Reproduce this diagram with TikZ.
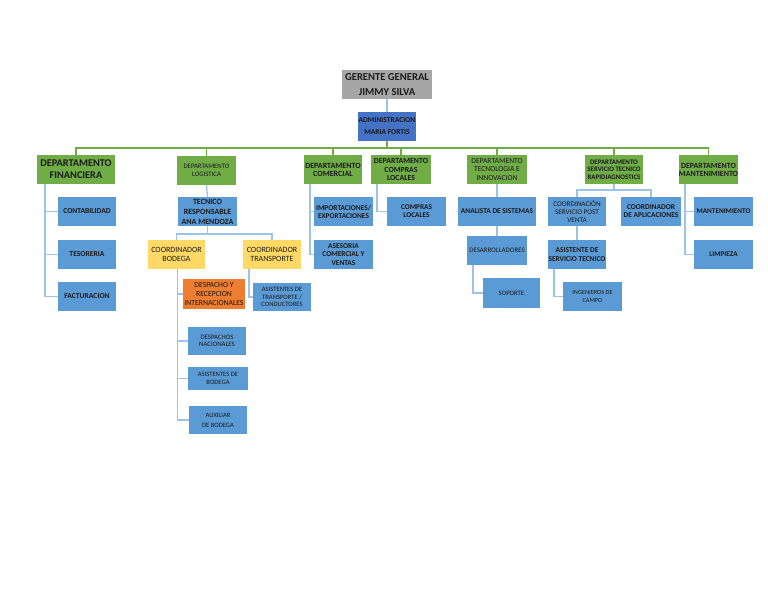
\documentclass[tikz,border=0pt]{standalone}
\usepackage{fontspec}
\setmainfont{Carlito}
\definecolor{cgreen}{HTML}{70AD47}
\definecolor{cblue}{HTML}{5B9BD5}
\definecolor{cadm}{HTML}{4472C4}
\definecolor{cgray}{HTML}{A6A6A6}
\definecolor{cyel}{HTML}{FFD966}
\definecolor{corg}{HTML}{ED7D31}
\definecolor{cline}{HTML}{9DC3E6}
\definecolor{ctext}{HTML}{1A1A1A}
\newcommand{\fz}[2]{\fontsize{#1}{#2}\selectfont}
\newcommand{\bx}[7]{\node[box,#6,minimum width={(#4)-(#2)},minimum height={(#5)-(#3)}] (#1) at ({((#2)+(#4))/2},{((#3)+(#5))/2}) {#7};}
\tikzset{
  box/.style={inner sep=0pt,outer sep=0pt,align=center,text=ctext},
  gbox/.style={box,fill=cgreen},
  bbox/.style={box,fill=cblue},
  ybox/.style={box,fill=cyel},
  conn/.style={draw=cline,line width=1.3pt},
  bus/.style={draw=cgreen,line width=1.3pt}
}
\begin{document}
\begin{tikzpicture}[x=1pt,y=-1pt]
\useasboundingbox[fill=white] (0,0) rectangle (768,594);
% top
\bx{ger}{342}{70}{432}{99}{fill=cgray,font=\fz{10.6}{15}\bfseries}{GERENTE GENERAL\\JIMMY SILVA}
\bx{adm}{358}{112}{416}{141}{fill=cadm,font=\fz{7.5}{12}\bfseries}{ADMINISTRACION\\MARIA FORTIS}
% departments
\bx{fin}{37}{155}{115}{184}{gbox,font=\fz{10.3}{12}\bfseries}{DEPARTAMENTO\\FINANCIERA}
\bx{log}{177}{156}{236}{185}{gbox,font=\fz{6.8}{8}}{DEPARTAMENTO\\LOGISTICA}
\bx{com}{304}{155}{362}{184}{gbox,font=\fz{8}{8}\bfseries}{DEPARTAMENTO\\COMERCIAL}
\bx{cmp}{371}{155}{431}{184}{gbox,font=\fz{7.8}{8.5}\bfseries}{DEPARTAMENTO\\COMPRAS\\LOCALES}
\bx{tec}{467}{155}{527}{184}{gbox,font=\fz{7.6}{8.5}}{DEPARTAMENTO\\TECNOLOGIA E\\INNOVACION}
\bx{srv}{585}{155}{643}{184}{gbox,font=\fz{6.9}{7.5}\bfseries}{DEPARTAMENTO\\SERVICIO TECNICO\\RAPIDIAGNOSTICS}
\bx{mant}{679}{155}{738}{184}{gbox,font=\fz{7.9}{8}\bfseries}{DEPARTAMENTO\\MANTENIMIENTO}
% financiera
\bx{cont}{58}{197}{116}{226}{bbox,font=\fz{7.6}{8}\bfseries}{CONTABILIDAD}
\bx{teso}{58}{240}{116}{269}{bbox,font=\fz{7.6}{8}\bfseries}{TESORERIA}
\bx{fact}{58}{282}{116}{311}{bbox,font=\fz{7.6}{8}\bfseries}{FACTURACION}
% logistica
\bx{tecr}{178}{197}{237}{226}{bbox,font=\fz{8}{10}\bfseries}{TECNICO\\RESPONSABLE\\ANA MENDOZA}
\bx{bod}{148}{240}{205}{269}{ybox,font=\fz{8}{9}}{COORDINADOR\\BODEGA}
\bx{tra}{243}{240}{301}{269}{ybox,font=\fz{8}{9}}{COORDINADOR\\TRANSPORTE}
\bx{desp}{183}{279}{245}{309}{fill=corg,box,font=\fz{7.7}{9}}{DESPACHO Y\\RECEPCION\\INTERNACIONALES}
\bx{atra}{253}{283}{311}{311}{bbox,font=\fz{6.6}{7.5}}{ASISTENTES DE\\TRANSPORTE /\\CONDUCTORES}
\bx{dnac}{188}{327}{246}{355}{bbox,font=\fz{6.8}{7}}{DESPACHOS\\NACIONALES}
\bx{abod}{188}{367}{248}{390}{bbox,font=\fz{6.6}{8}}{ASISTENTES DE\\BODEGA}
\bx{aux}{189}{406}{247}{434}{bbox,font=\fz{6.6}{10}}{AUXILIAR\\DE BODEGA}
% comercial / compras
\bx{imp}{314}{197}{373}{226}{bbox,font=\fz{7.4}{8}\bfseries}{IMPORTACIONES/\\EXPORTACIONES}
\bx{ase}{314}{240}{373}{269}{bbox,font=\fz{7.4}{8.5}\bfseries}{ASESORIA\\COMERCIAL Y\\VENTAS}
\bx{cloc}{387}{197}{446}{226}{bbox,font=\fz{7.3}{8}\bfseries}{COMPRAS\\LOCALES}
% tecnologia
\bx{ana}{458}{197}{536}{226}{bbox,font=\fz{7.4}{8}\bfseries}{ANALISTA DE SISTEMAS}
\bx{des}{467}{236}{527}{265}{bbox,font=\fz{6.9}{8}}{DESARROLLADORES}
\bx{sop}{483}{278}{540}{308}{bbox,font=\fz{6.7}{8}}{SOPORTE}
% servicio
\bx{cpv}{548}{197}{606}{226}{bbox,font=\fz{7.2}{8}}{COORDINACIÓN\\SERVICIO POST\\VENTA}
\bx{capl}{621}{197}{681}{226}{bbox,font=\fz{7.4}{8}\bfseries}{COORDINADOR\\DE APLICACIONES}
\bx{asv}{548}{240}{606}{269}{bbox,font=\fz{7.4}{8.5}\bfseries}{ASISTENTE DE\\SERVICIO TECNICO}
\bx{ing}{563}{282}{622}{311}{bbox,font=\fz{6.3}{8}}{INGENIEROS DE\\CAMPO}
% mantenimiento
\bx{mnt}{694}{197}{753}{226}{bbox,font=\fz{7.2}{8}\bfseries}{MANTENIMIENTO}
\bx{lim}{694}{240}{753}{269}{bbox,font=\fz{7.2}{8}\bfseries}{LIMPIEZA}
% connectors
\coordinate (busy) at (0,148);
\draw[conn] (ger.south) -- (adm.north);
\draw[bus] (adm.south) -- (adm.south |- busy);
\draw[bus] (fin.north) -- (fin.north |- busy) -- (mant.north |- busy) -- (mant.north);
\foreach \n in {log,com,cmp,tec,srv} \draw[bus] (\n.north) -- (\n.north |- busy);
\foreach \c in {cont,teso,fact} \draw[conn] ([xshift=8pt]fin.south west) |- (\c.west);
\draw[conn] (log.south) -- (tecr.north);
\draw[conn] (tecr.south) -- ++(0,8) coordinate (t1) -| (bod.north);
\draw[conn] (t1) -| (tra.north);
\foreach \c in {desp,dnac,abod,aux} \draw[conn] ([xshift=1pt]bod.south) |- (\c.west);
\draw[conn] ([xshift=6pt]tra.south west) |- (atra.west);
\foreach \c in {imp,ase} \draw[conn] ([xshift=6pt]com.south west) |- (\c.west);
\draw[conn] ([xshift=6pt]cmp.south west) |- (cloc.west);
\draw[conn] (tec.south) -- (ana.north);
\draw[conn] (ana.south) -- (des.north);
\draw[conn] ([xshift=6pt]des.south west) |- (sop.west);
\draw[conn] (srv.south) -- ++(0,6) coordinate (s1) -| (cpv.north);
\draw[conn] (s1) -| (capl.north);
\draw[conn] (cpv.south) -- (asv.north);
\draw[conn] ([xshift=6pt]asv.south west) |- (ing.west);
\foreach \c in {mnt,lim} \draw[conn] ([xshift=6pt]mant.south west) |- (\c.west);
\end{tikzpicture}
\end{document}
